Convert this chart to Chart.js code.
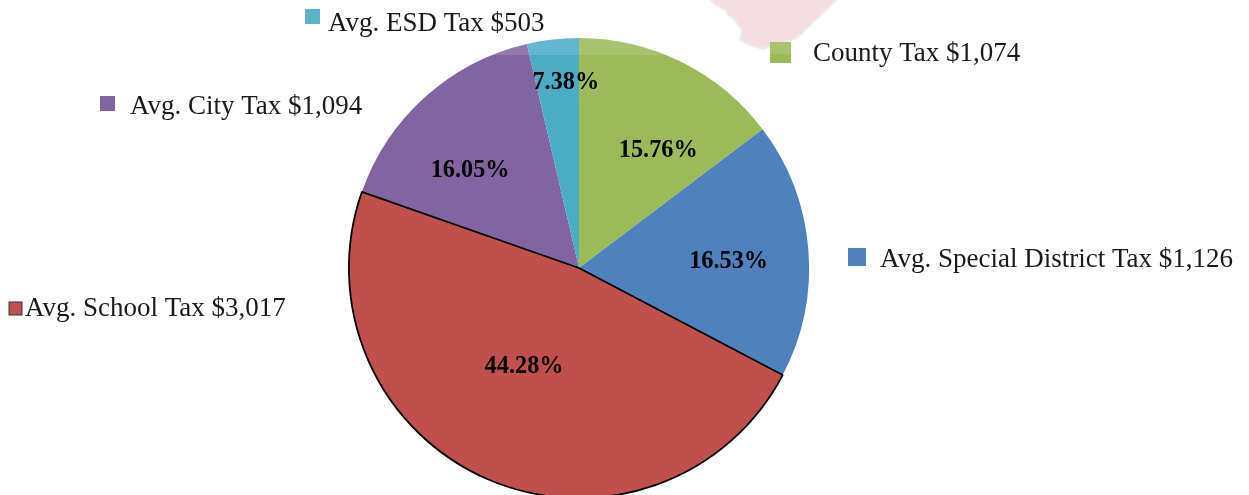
<!DOCTYPE html>
<html>
<head>
<meta charset="utf-8">
<title>Average tax</title>
<script src="https://cdn.jsdelivr.net/npm/chart.js@4"></script>
<style>
  html, body { margin: 0; padding: 0; width: 1249px; height: 495px; overflow: hidden; background: #fff; }
  #wrap { width: 1249px; height: 536px; }
</style>
</head>
<body>
<div id="wrap"><canvas id="myChart" width="1249" height="536"></canvas></div>
<script>
// slices go clockwise starting from the purple one so the red slice paints last
const taxNames = ['Avg. City Tax', 'Avg. ESD Tax', 'County Tax', 'Avg. Special District Tax', 'Avg. School Tax'];
const taxAmounts = ['$1,094', '$503', '$1,074', '$1,126', '$3,017'];
const percentLabels = ['16.05%', '7.38%', '15.76%', '16.53%', '44.28%'];
// drawn slice sizes (they do not follow the printed percentages)
const sliceShares = [16.0, 3.64, 14.7, 18.0, 47.66];
const sliceColors = ['#8264a2', '#4bacc6', '#9bbb59', '#4f81bd', '#c0504d'];
const keyColors = ['#8064a2', '#5eb3cc', '#9bbb59', '#4f81bd', '#c0504d'];

// offsets from each slice's centre point to its percent label
const labelNudge = [[-32, -12], [0, -71], [28, -14], [35, 3], [-9, -7]];
// key square x, y, size and text x, y per entry
const keyLayout = [
  [100, 96, 15, 130, 107],
  [305, 9, 15, 328, 24],
  [770, 42, 21, 813, 54],
  [848, 248, 18, 880, 260],
  [9, 302, 13, 25, 309]
];

const backdrop = {
  id: 'backdrop',
  beforeDraw(chart) {
    const c = chart.ctx;
    c.save();
    c.fillStyle = '#f5dde2';
    c.strokeStyle = '#ececec';
    c.lineWidth = 2;
    c.beginPath();
    c.moveTo(708, -2);
    c.lineTo(716, 5);
    c.lineTo(725, 10);
    c.lineTo(729, 16);
    c.lineTo(735, 20);
    c.lineTo(738, 25);
    c.lineTo(742, 29);
    c.lineTo(740, 40);
    c.lineTo(750, 45);
    c.lineTo(763, 49);
    c.lineTo(772, 46);
    c.lineTo(797, 38);
    c.lineTo(838, -2);
    c.closePath();
    c.fill();
    c.stroke();
    c.restore();
  }
};

const annotations = {
  id: 'annotations',
  afterDatasetsDraw(chart) {
    const c = chart.ctx;
    const arcs = chart.getDatasetMeta(0).data;
    c.save();

    // pale band across the top of the pie
    const a0 = arcs[0];
    c.save();
    c.beginPath();
    c.rect(0, 0, 1249, 55);
    c.clip();
    c.beginPath();
    c.arc(a0.x, a0.y, a0.outerRadius, 0, Math.PI * 2);
    c.fillStyle = 'rgba(255,255,255,0.13)';
    c.fill();
    c.restore();

    // percent labels
    c.font = 'bold 24.3px "Liberation Serif"';
    c.fillStyle = '#000';
    c.textAlign = 'center';
    c.textBaseline = 'middle';
    arcs.forEach((arc, i) => {
      const p = arc.getCenterPoint();
      c.fillText(percentLabels[i], p.x + labelNudge[i][0], p.y + labelNudge[i][1]);
    });

    // scattered legend
    c.font = '27px "Liberation Serif"';
    c.textAlign = 'left';
    taxNames.forEach((name, i) => {
      const k = keyLayout[i];
      c.fillStyle = keyColors[i];
      c.fillRect(k[0], k[1], k[2], k[2]);
      if (i === 2) {
        // county key carries the same pale band on its upper half
        c.fillStyle = 'rgba(255,255,255,0.13)';
        c.fillRect(k[0], k[1], k[2], 12);
      }
      if (i === 4) {
        c.strokeStyle = '#333';
        c.lineWidth = 1;
        c.strokeRect(k[0], k[1], k[2], k[2]);
      }
      c.fillStyle = '#1a1a1a';
      c.fillText(name + ' ' + taxAmounts[i], k[3], k[4]);
    });
    c.restore();
  }
};

var ctx = document.getElementById('myChart').getContext('2d');
var myChart = new Chart(ctx, {
  type: 'pie',
  data: {
    labels: taxNames,
    datasets: [{
      data: sliceShares,
      backgroundColor: sliceColors,
      borderColor: ['#8264a2', '#4bacc6', '#9bbb59', '#4f81bd', '#000'],
      borderWidth: [0, 0, 0, 0, 1.8]
    }]
  },
  options: {
    responsive: false,
    animation: false,
    rotation: 289.3,
    layout: { padding: { top: 37, bottom: 37, left: 0, right: 91 } },
    plugins: { legend: { display: false }, tooltip: { enabled: false } }
  },
  plugins: [backdrop, annotations]
});
</script>
</body>
</html>
